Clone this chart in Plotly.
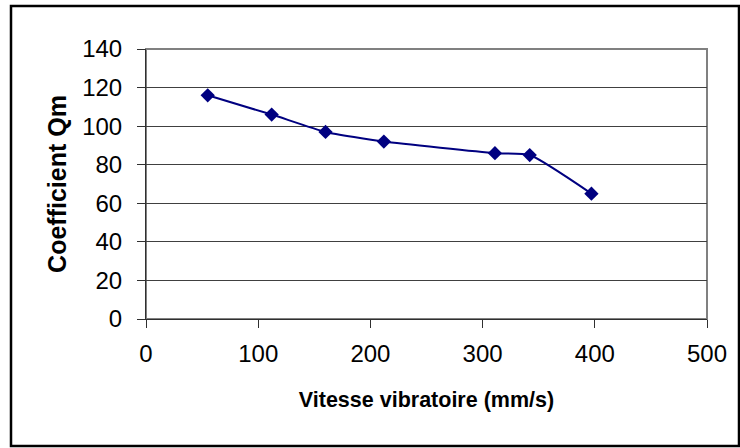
import plotly.graph_objects as go

# Vitesse vibratoire (mm/s) vs coefficient Qm
vitesse = [55, 112, 160, 212, 311, 342, 397]
coeff_qm = [116, 106, 97, 92, 86, 85, 65]

x_ticks = [0, 100, 200, 300, 400, 500]
y_ticks = [0, 20, 40, 60, 80, 100, 120, 140]

fig = go.Figure()
fig.add_trace(go.Scatter(
    x=vitesse,
    y=coeff_qm,
    mode="lines+markers",
    line=dict(color="#000080", width=2, shape="spline", smoothing=0.5),
    marker=dict(symbol="diamond", size=11, color="#000080"),
    showlegend=False,
))

font = "Liberation Sans, Arial, sans-serif"
fig.update_layout(
    width=740,
    height=448,
    margin=dict(l=146, r=33, t=49, b=129),
    paper_bgcolor="white",
    plot_bgcolor="white",
    font=dict(family=font, size=24, color="black"),
    xaxis=dict(
        range=[0, 500],
        tickvals=x_ticks,
        showgrid=False,
        zeroline=False,
        showline=True,
        linecolor="#303030",
        linewidth=1,
        ticks="outside",
        ticklen=8,
        tickcolor="#303030",
        ticklabelstandoff=5,
        title=dict(text="<b>Vitesse vibratoire (mm/s)</b>", font=dict(size=21.5), standoff=26),
    ),
    yaxis=dict(
        range=[0, 140],
        tickvals=y_ticks,
        showgrid=True,
        gridcolor="#404040",
        gridwidth=1,
        zeroline=False,
        showline=True,
        linecolor="#303030",
        linewidth=1,
        ticks="outside",
        ticklen=8,
        tickcolor="#303030",
        ticklabelstandoff=10,
        title=dict(text="<b>Coefficient Qm</b>", font=dict(size=25), standoff=8),
    ),
    shapes=[
        # grey plot-area frame
        dict(type="rect", xref="paper", yref="paper", x0=0, y0=0, x1=1, y1=1,
             line=dict(color="#808080", width=2), layer="below"),
        # outer chart border
        dict(type="rect", xref="paper", yref="paper",
             x0=-135 / 561, y0=-127 / 270, x1=1 + 32 / 561, y1=1 + 43 / 270,
             line=dict(color="black", width=2.5)),
    ],
)

fig.write_html("out.html", config={"displayModeBar": False},
               post_script="document.body.style.margin='0';")
